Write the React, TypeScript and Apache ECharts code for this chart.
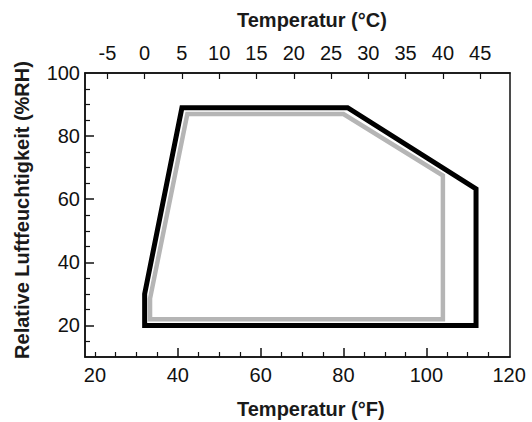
import React, { useEffect, useRef } from "react";
import * as echarts from "echarts";

// Outer envelope (black)
const blackF = [32, 32, 41, 81, 112, 112, 32];
const blackRH = [20, 30, 89, 89, 63.3, 20, 20];
// Inner envelope (gray)
const grayF = [33.3, 33.3, 42.3, 80, 104, 104, 33.3];
const grayRH = [22, 28.5, 87, 87, 67.5, 22, 22];

// Axis ticks / labels
const fMajorLabels = [20, 40, 60, 80, 100, 120];
const fMajorTicks = [40, 60, 80, 100];
const fMinorTicks = [20, 25, 30, 35, 45, 50, 55, 65, 70, 75, 85, 90, 95, 105, 110, 115];
const cLabels = [-5, 0, 5, 10, 15, 20, 25, 30, 35, 40, 45];
const rhLabels = [20, 40, 60, 80, 100];
const rhMajorTicks = [20, 40, 60, 80];
const rhMinorTicks = [15, 25, 30, 35, 45, 50, 55, 65, 70, 75, 85, 90, 95];

const F_MIN = 17.6;
const F_MAX = 120.2;
const C_MIN = -8;
const C_MAX = 49;
const RH_MIN = 10;
const RH_MAX = 100;

const FONT = "'Liberation Sans', Arial, Helvetica, sans-serif";

export default function App() {
  const ref = useRef<HTMLDivElement>(null);
  useEffect(() => {
    document.body.style.margin = "0";
    if (!ref.current) return;
    const chart = echarts.init(ref.current, undefined, { renderer: "svg" });
    const label = { fontFamily: FONT, fontSize: 20, color: "#111" };
    const lineAx = { show: true, onZero: false, lineStyle: { color: "#111", width: 1.5 } };
    chart.setOption({
      animation: false,
      backgroundColor: "#fff",
      grid: {
        left: 85,
        right: 22,
        top: 73,
        bottom: 65,
        show: true,
        borderColor: "#111",
        borderWidth: 1.5,
        backgroundColor: "transparent",
      },
      xAxis: [
        {
          type: "value",
          position: "bottom",
          min: F_MIN,
          max: F_MAX,
          axisLine: lineAx,
          splitLine: { show: false },
          axisTick: {
            show: true,
            inside: true,
            length: 9,
            customValues: fMajorTicks,
            lineStyle: { color: "#111", width: 1.5 },
          },
          axisLabel: { ...label, margin: 8, customValues: fMajorLabels, showMinLabel: true, showMaxLabel: true },
        },
        {
          type: "value",
          position: "top",
          min: C_MIN,
          max: C_MAX,
          axisLine: lineAx,
          splitLine: { show: false },
          axisTick: {
            show: true,
            inside: true,
            length: 6,
            customValues: cLabels,
            lineStyle: { color: "#111", width: 1.2 },
          },
          axisLabel: { ...label, margin: 10, customValues: cLabels },
        },
        {
          type: "value",
          position: "bottom",
          min: F_MIN,
          max: F_MAX,
          axisLine: { show: false, onZero: false },
          splitLine: { show: false },
          axisTick: {
            show: true,
            inside: true,
            length: 5,
            customValues: fMinorTicks,
            lineStyle: { color: "#111", width: 1.2 },
          },
          axisLabel: { show: false },
        },
      ],
      yAxis: [
        {
          type: "value",
          position: "left",
          min: RH_MIN,
          max: RH_MAX,
          axisLine: lineAx,
          splitLine: { show: false },
          axisTick: {
            show: true,
            inside: true,
            length: 9,
            customValues: rhMajorTicks,
            lineStyle: { color: "#111", width: 1.5 },
          },
          axisLabel: { ...label, margin: 5, customValues: rhLabels },
        },
        {
          type: "value",
          position: "left",
          min: RH_MIN,
          max: RH_MAX,
          axisLine: { show: false, onZero: false },
          splitLine: { show: false },
          axisTick: {
            show: true,
            inside: true,
            length: 5,
            customValues: rhMinorTicks,
            lineStyle: { color: "#111", width: 1.2 },
          },
          axisLabel: { show: false },
        },
      ],
      series: [
        {
          type: "line",
          xAxisIndex: 0,
          yAxisIndex: 0,
          data: grayF.map((f, i) => [f, grayRH[i]]),
          symbol: "none",
          lineStyle: { color: "#b5b5b5", width: 4.5, join: "miter", cap: "square" },
          silent: true,
        },
        {
          type: "line",
          xAxisIndex: 0,
          yAxisIndex: 0,
          data: blackF.map((f, i) => [f, blackRH[i]]),
          symbol: "none",
          lineStyle: { color: "#000", width: 5, join: "miter", cap: "square" },
          silent: true,
        },
      ],
      graphic: [
        {
          type: "text",
          left: 237,
          top: 10,
          style: { text: "Temperatur (°C)", font: `bold 20px ${FONT}`, fill: "#1a1a1a" },
        },
        {
          type: "text",
          left: 237,
          top: 399,
          style: { text: "Temperatur (°F)", font: `bold 20px ${FONT}`, fill: "#1a1a1a" },
        },
        {
          type: "text",
          x: 22,
          y: 210,
          rotation: Math.PI / 2,
          style: {
            text: "Relative Luftfeuchtigkeit (%RH)",
            font: `bold 20px ${FONT}`,
            fill: "#1a1a1a",
            align: "center",
            verticalAlign: "middle",
          },
        },
      ],
    });
    return () => chart.dispose();
  }, []);
  return <div ref={ref} style={{ width: 532, height: 422 }} />;
}
